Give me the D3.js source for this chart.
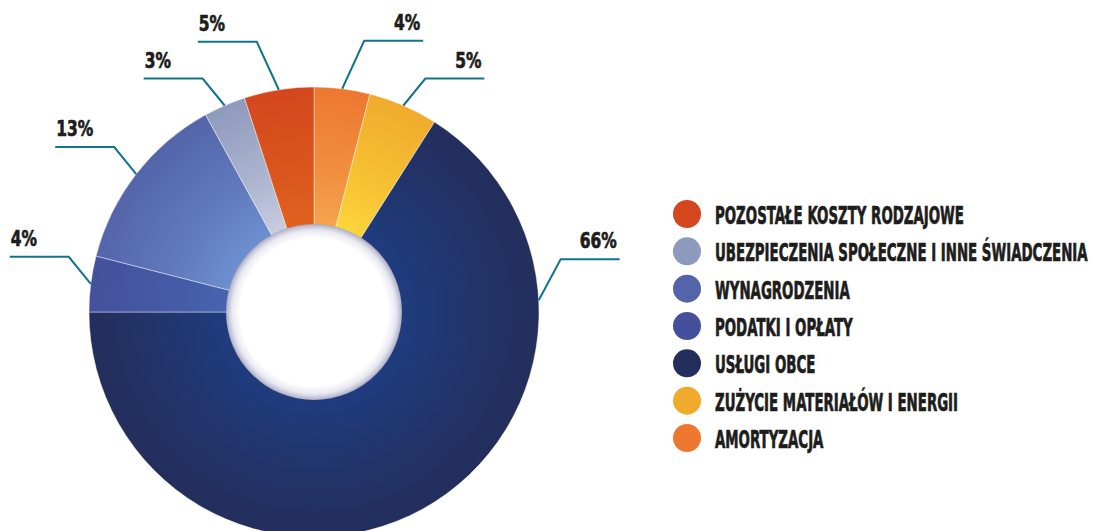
<!DOCTYPE html>
<html>
<head>
<meta charset="utf-8">
<script src="https://cdn.jsdelivr.net/npm/d3@7"></script>
<style>
  html, body { margin: 0; padding: 0; background: #fff; }
  svg { display: block; }
  .lbl { font-family: "Liberation Sans Narrow", "DejaVu Sans Condensed", "Liberation Sans", sans-serif; font-weight: bold; fill: #1d1d1b; stroke: #1d1d1b; stroke-width: 0.7px; }
</style>
</head>
<body>
<svg id="chart" width="1095" height="531"></svg>
<script>
// ---- data ----
const categories = [
  "POZOSTAŁE KOSZTY RODZAJOWE",
  "UBEZPIECZENIA SPOŁECZNE I INNE ŚWIADCZENIA",
  "WYNAGRODZENIA",
  "PODATKI I OPŁATY",
  "USŁUGI OBCE",
  "ZUŻYCIE MATERIAŁÓW I ENERGII",
  "AMORTYZACJA"
];
const values = [5, 3, 13, 4, 66, 5, 4];
const outerColors = ["#d4471e", "#8e9abd", "#5464aa", "#44509c", "#232e5c", "#f0ab2d", "#ee7730"];
const innerColors = ["#e0621e", "#c8cce0", "#6d8fcf", "#4764b0", "#203c7e", "#fcd43a", "#f4a44c"];

// ---- layout ----
const svg = d3.select("#chart");
const cx = 314, cy = 312, R = 225, r0 = 88;

const data = categories.map((c, i) => ({ name: c, value: values[i], outer: outerColors[i], inner: innerColors[i], idx: i }));
// slices go clockwise from 12 o'clock in reverse legend order
const pieData = d3.pie().sort(null).value(d => d.value)(data.slice().reverse());

const defs = svg.append("defs");
data.forEach(d => {
  const g = defs.append("radialGradient")
    .attr("id", "grad" + d.idx)
    .attr("gradientUnits", "userSpaceOnUse")
    .attr("cx", 0).attr("cy", 0).attr("r", R);
  g.append("stop").attr("offset", r0 / R).attr("stop-color", d.inner);
  g.append("stop").attr("offset", 0.62).attr("stop-color", d3.interpolateRgb(d.inner, d.outer)(0.45));
  g.append("stop").attr("offset", 1).attr("stop-color", d.outer);
});
const hole = defs.append("radialGradient").attr("id", "hole");
hole.append("stop").attr("offset", 0).attr("stop-color", "#ffffff");
hole.append("stop").attr("offset", 0.84).attr("stop-color", "#ffffff");
hole.append("stop").attr("offset", 0.93).attr("stop-color", "#e8e8f1");
hole.append("stop").attr("offset", 0.98).attr("stop-color", "#c0c0d4");
hole.append("stop").attr("offset", 1).attr("stop-color", "#a6a6be");

const arc = d3.arc().innerRadius(0).outerRadius(R);
const g = svg.append("g").attr("transform", `translate(${cx},${cy})`);
g.selectAll("path.slice").data(pieData).join("path")
  .attr("class", "slice")
  .attr("d", arc)
  .attr("fill", d => `url(#grad${d.data.idx})`)
  .attr("stroke", "#ffffff")
  .attr("stroke-width", 0.6)
  .attr("stroke-opacity", 0.7);

g.append("circle").attr("r", r0).attr("fill", "url(#hole)");

// ---- leader lines & percentage labels ----
const lineColor = "#10758b";
const deg = Math.PI / 180;
const leaders = pieData.map(d => {
  let a = (d.startAngle + d.endAngle) / 2;
  if (a > 90 * deg && a <= 180 * deg) a = 87 * deg;
  else if (a > 180 * deg && a < 270 * deg) a = 273 * deg;
  const ax = cx + R * Math.sin(a), ay = cy - R * Math.cos(a);
  const side = Math.sin(a) >= 0 ? 1 : -1;
  let rise = 27;
  if (Math.cos(a) > 0.98) rise = 48;
  else if (side > 0 && Math.cos(a) < 0.1) rise = 41;
  const ex = ax + side * 22, ey = ay - rise;
  const hx = ex + side * 59;
  return { d, ax, ay, ex, ey, hx, side };
});

svg.selectAll("polyline.leader").data(leaders).join("polyline")
  .attr("class", "leader")
  .attr("points", l => `${l.ax},${l.ay} ${l.ex},${l.ey} ${l.hx},${l.ey}`)
  .attr("fill", "none")
  .attr("stroke", lineColor)
  .attr("stroke-width", 2);

function widthOf(txt, size) {
  const t = svg.append("text").attr("class", "lbl").style("font-size", size + "px").text(txt);
  const w = t.node().getComputedTextLength();
  t.remove();
  return w;
}

// legend scale factor from rendered width of longest label
const legendFont = 24;
const kx = 373 / widthOf(d3.greatest(categories, c => c.length), legendFont);

const pctFont = 22;
const kp = 37 / widthOf("66%", pctFont);
svg.selectAll("text.pct").data(leaders).join("text")
  .attr("class", "lbl pct")
  .style("font-size", pctFont + "px")
  .attr("text-anchor", l => l.side > 0 ? "end" : "start")
  .attr("transform", l => `translate(${l.side > 0 ? l.hx - 3 : l.hx + 1},${l.ey - 11}) scale(${kp},1)`)
  .text(l => l.d.data.value + "%");

// ---- legend ----
const ly = d3.scalePoint().domain(categories).range([214, 438]);
const leg = svg.append("g");
leg.selectAll("circle").data(data).join("circle")
  .attr("cx", 687).attr("cy", d => ly(d.name)).attr("r", 14)
  .attr("fill", d => d.outer);
leg.selectAll("text").data(data).join("text")
  .attr("class", "lbl")
  .style("font-size", legendFont + "px")
  .attr("transform", d => `translate(715,${ly(d.name) + 10}) scale(${kx},1)`)
  .text(d => d.name);
</script>
</body>
</html>
